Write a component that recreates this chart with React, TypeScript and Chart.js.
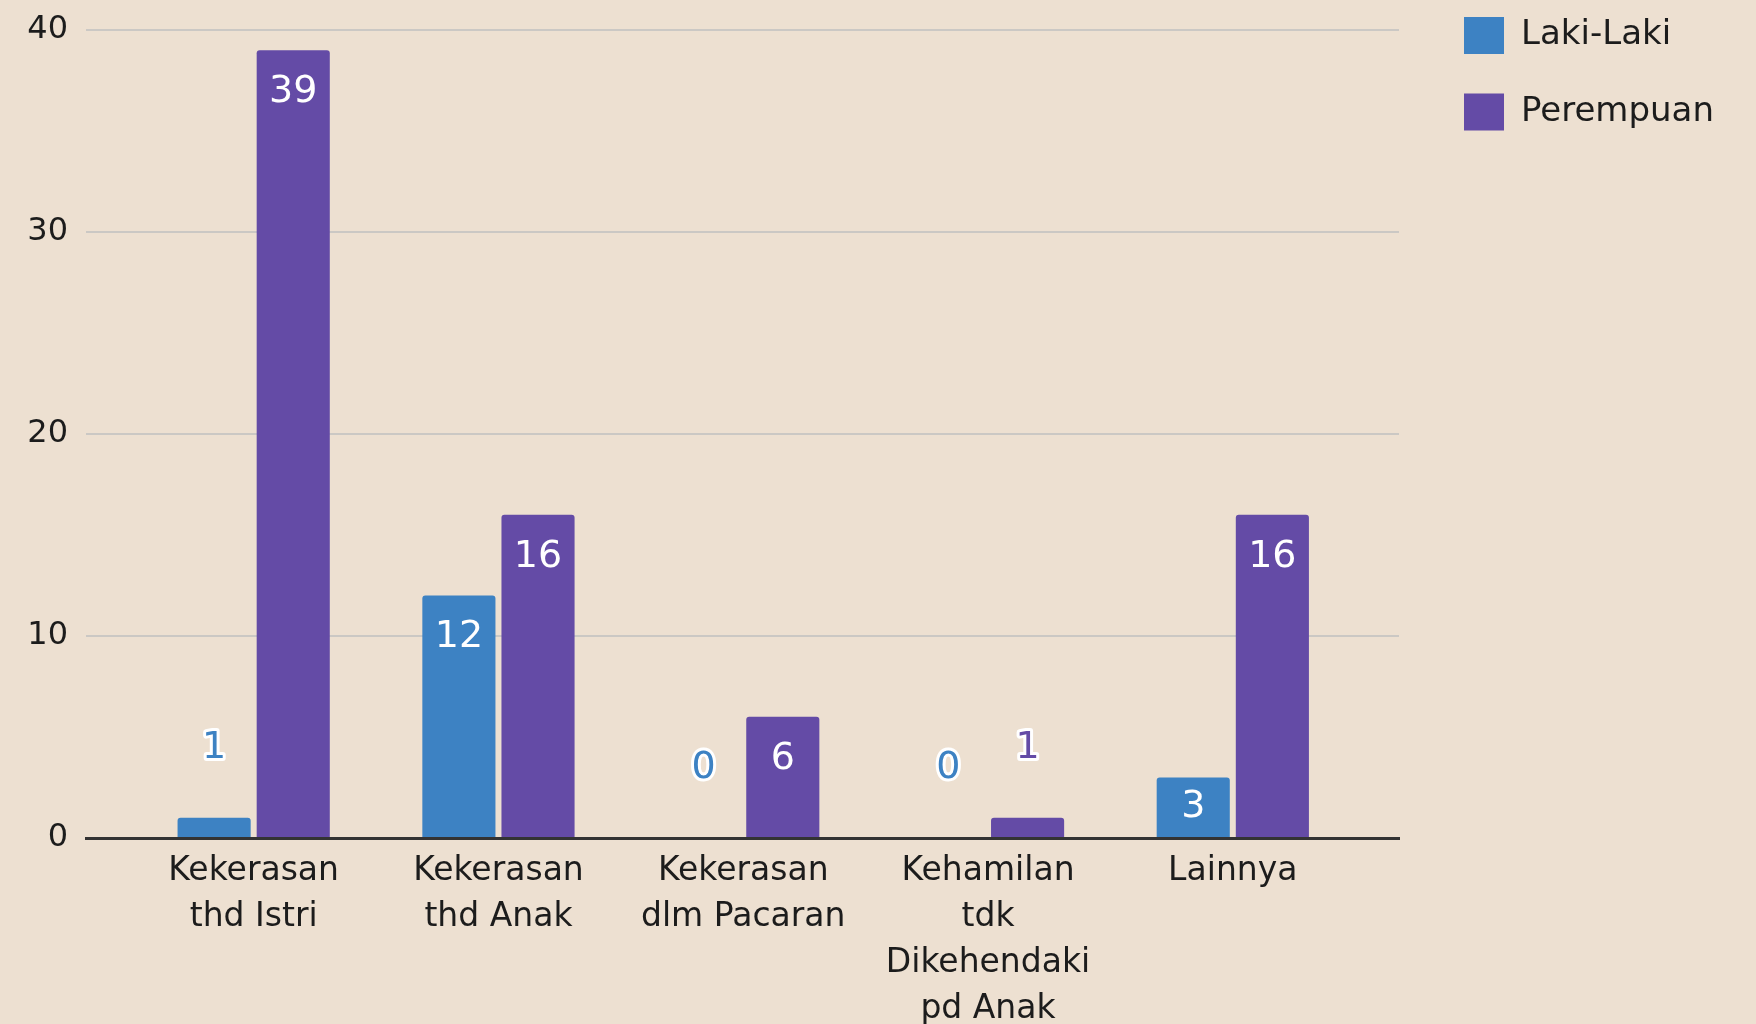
import React, { useEffect, useRef } from 'react';
import { Chart, registerables } from 'chart.js';

Chart.register(...registerables);

const categories: string[][] = [
  ['Kekerasan', 'thd Istri'],
  ['Kekerasan', 'thd Anak'],
  ['Kekerasan', 'dlm Pacaran'],
  ['Kehamilan', 'tdk', 'Dikehendaki', 'pd Anak'],
  ['Lainnya'],
];
const seriesNames = ['Laki-Laki', 'Perempuan'];
const lakiLaki = [1, 12, 0, 0, 3];
const perempuan = [39, 16, 6, 1, 16];
const yTickStep = 10;
const yMax = 40;
const seriesColors = ['#3d82c3', '#644ba6'];

const FONT = '"DejaVu Sans", "Noto Sans", sans-serif';
const TEXT = '#1c1c1c';
const BG = '#ede0d1';

const valueLabels = {
  id: 'valueLabels',
  afterDatasetsDraw(chart: any) {
    const ctx = chart.ctx;
    ctx.save();
    ctx.font = `38px ${FONT}`;
    ctx.textAlign = 'center';
    ctx.textBaseline = 'middle';
    chart.data.datasets.forEach((ds: any, di: number) => {
      const meta = chart.getDatasetMeta(di);
      meta.data.forEach((bar: any, i: number) => {
        const { x, y, base } = bar.getProps(['x', 'y', 'base'], true);
        const v = ds.data[i].y;
        const text = String(v);
        const h = base - y;
        if (h > 45) {
          const cy = Math.min(y + 42, (y + base) / 2);
          ctx.fillStyle = '#ffffff';
          ctx.fillText(text, x, cy);
        } else {
          const cy = y - 70;
          ctx.lineWidth = 6;
          ctx.lineJoin = 'round';
          ctx.strokeStyle = '#ffffff';
          ctx.strokeText(text, x, cy);
          ctx.fillStyle = ds.backgroundColor;
          ctx.fillText(text, x, cy);
        }
      });
    });
    ctx.restore();
  },
};

export default function App() {
  const ref = useRef<HTMLCanvasElement | null>(null);

  useEffect(() => {
    if (!ref.current) return;
    Chart.defaults.font.family = FONT;
    const toPoints = (arr: number[]) => arr.map((v, i) => ({ x: i, y: v }));
    const chart = new Chart(ref.current, {
      type: 'bar',
      data: {
        datasets: [
          {
            label: seriesNames[0],
            data: toPoints(lakiLaki),
            backgroundColor: seriesColors[0],
            borderRadius: 3,
            borderSkipped: 'start',
            categoryPercentage: 0.6465,
            barPercentage: 0.924,
            xAxisID: 'x',
            yAxisID: 'y',
          },
          {
            label: seriesNames[1],
            data: toPoints(perempuan),
            backgroundColor: seriesColors[1],
            borderRadius: 3,
            borderSkipped: 'start',
            categoryPercentage: 0.6465,
            barPercentage: 0.924,
            xAxisID: 'x',
            yAxisID: 'y',
          },
        ],
      },
      options: {
        animation: false,
        responsive: true,
        maintainAspectRatio: false,
        layout: { padding: { top: 4, right: 32, left: 0, bottom: 0 } },
        scales: {
          x: {
            type: 'linear',
            min: -0.685,
            max: 4.679,
            offset: false,
            grid: { display: false, drawTicks: false },
            border: { display: true, color: '#333333', width: 3 },
            ticks: {
              stepSize: 1,
              autoSkip: false,
              maxRotation: 0,
              minRotation: 0,
              padding: 11,
              color: TEXT,
              font: { family: FONT, size: 33, lineHeight: 1.385 },
              callback: (v: any) => categories[Math.round(Number(v))] ?? '',
            },
            afterBuildTicks: (s: any) => {
              s.ticks = categories.map((_, i) => ({ value: i }));
            },
            afterFit: (s: any) => {
              s.height = 186;
            },
          },
          y: {
            type: 'linear',
            position: 'left',
            min: 0,
            max: yMax,
            ticks: {
              stepSize: yTickStep,
              padding: 18,
              color: TEXT,
              font: { family: FONT, size: 32 },
            },
            grid: {
              drawTicks: false,
              lineWidth: 2,
              color: (c: any) => (c.tick && c.tick.value === 0 ? 'rgba(0,0,0,0)' : '#cbc8c4'),
            },
            border: { display: false },
            afterFit: (s: any) => {
              s.width = 86;
              s.paddingTop = 30;
            },
          },
          yPad: {
            type: 'linear',
            position: 'right',
            display: true,
            grid: { display: false, drawTicks: false },
            border: { display: false },
            ticks: { display: false },
            afterFit: (s: any) => {
              s.width = 52;
            },
          },
        },
        plugins: {
          tooltip: { enabled: false },
          legend: {
            position: 'right',
            align: 'start',
            labels: {
              boxWidth: 40,
              boxHeight: 37,
              padding: 13,
              color: TEXT,
              font: { family: FONT, size: 34, lineHeight: 1.868 },
              generateLabels: (ch: any) =>
                ch.data.datasets.map((ds: any, i: number) => ({
                  text: [ds.label],
                  fillStyle: seriesColors[i],
                  strokeStyle: seriesColors[i],
                  lineWidth: 0,
                  hidden: false,
                  datasetIndex: i,
                  fontColor: TEXT,
                })),
            },
          },
        },
      },
      plugins: [valueLabels],
    } as any);
    return () => chart.destroy();
  }, []);

  return (
    <div
      style={{
        position: 'fixed',
        left: 0,
        top: 0,
        width: 1756,
        height: 1024,
        background: BG,
      }}
    >
      <canvas ref={ref} />
    </div>
  );
}
